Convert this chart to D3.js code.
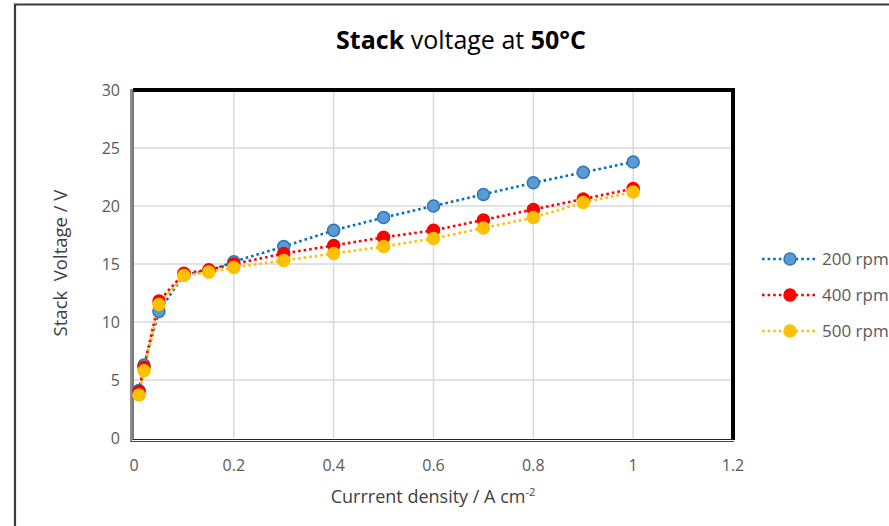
<!DOCTYPE html>
<html>
<head>
<meta charset="utf-8">
<script src="https://cdn.jsdelivr.net/npm/d3@7"></script>
<style>
  body { margin: 0; background: #fff; }
  svg { display: block; }
  text { font-family: "Open Sans", "Liberation Sans", sans-serif; }
</style>
</head>
<body>
<script>
// data
var currentDensity = [0.01, 0.02, 0.05, 0.1, 0.15, 0.2, 0.3, 0.4, 0.5, 0.6, 0.7, 0.8, 0.9, 1.0];
var rpm200 = [4.1, 6.3, 10.9, 14.1, 14.4, 15.2, 16.5, 17.9, 19.0, 20.0, 21.0, 22.0, 22.9, 23.8];
var rpm400 = [4.0, 6.1, 11.8, 14.2, 14.5, 15.0, 15.9, 16.6, 17.3, 17.9, 18.8, 19.7, 20.6, 21.5];
var rpm500 = [3.7, 5.8, 11.5, 14.0, 14.3, 14.7, 15.3, 15.9, 16.5, 17.2, 18.1, 19.0, 20.3, 21.2];
var seriesNames = ['200 rpm', '400 rpm', '500 rpm'];
var xTicks = [0, 0.2, 0.4, 0.6, 0.8, 1, 1.2];
var yTicks = [0, 5, 10, 15, 20, 25, 30];

var series = [
  { name: seriesNames[0], values: rpm200, line: '#0070c0', fill: '#5b9bd5', stroke: '#2e75b6' },
  { name: seriesNames[1], values: rpm400, line: '#ff0000', fill: '#ff0000', stroke: '#ff0000' },
  { name: seriesNames[2], values: rpm500, line: '#ffc000', fill: '#ffc000', stroke: '#ffc000' }
];

var W = 889, H = 526;
var svg = d3.select('body').append('svg')
  .attr('width', W).attr('height', H);

// outer frame (cropped picture: only top and left visible)
svg.append('path')
  .attr('d', 'M15,' + H + 'V4.5H' + W)
  .attr('fill', 'none')
  .attr('stroke', '#3a3a3a')
  .attr('stroke-width', 2.2);

var pL = 134, pR = 733, pT = 90, pB = 438;

var x = d3.scaleLinear().domain([0, 1.2]).range([pL, pR]);
var y = d3.scaleLinear().domain([0, 30]).range([pB, pT]);

// gridlines
svg.append('g').selectAll('line')
  .data(yTicks.slice(1)).enter().append('line')
  .attr('x1', pL).attr('x2', pR)
  .attr('y1', function(d){ return y(d); })
  .attr('y2', function(d){ return y(d); })
  .attr('stroke', '#d9d9d9').attr('stroke-width', 1.5);

svg.append('g').selectAll('line')
  .data(xTicks.slice(1)).enter().append('line')
  .attr('y1', pT).attr('y2', pB)
  .attr('x1', function(d){ return x(d); })
  .attr('x2', function(d){ return x(d); })
  .attr('stroke', '#d9d9d9').attr('stroke-width', 1.5);

// plot frame: thick top/right, double line left/bottom
svg.append('path')
  .attr('d', 'M' + (pL - 1) + ',' + pT + 'H' + pR + 'V' + (pB + 2))
  .attr('fill', 'none').attr('stroke', '#000').attr('stroke-width', 4);
svg.append('path')
  .attr('d', 'M' + (pL - 1) + ',' + (pT - 1) + 'V' + (pB + 1.5) + 'H' + pR)
  .attr('fill', 'none').attr('stroke', '#222').attr('stroke-width', 1.2);
svg.append('path')
  .attr('d', 'M' + (pL - 3) + ',' + (pT - 1) + 'V' + (pB + 3.5) + 'H' + (pR + 1))
  .attr('fill', 'none').attr('stroke', '#444').attr('stroke-width', 1.2);

// tick labels
svg.append('g').selectAll('text')
  .data(yTicks).enter().append('text')
  .attr('x', 120)
  .attr('y', function(d){ return y(d) + 6; })
  .attr('text-anchor', 'end')
  .attr('font-size', 16)
  .attr('fill', '#595959')
  .text(function(d){ return d; });

svg.append('g').selectAll('text')
  .data(xTicks).enter().append('text')
  .attr('x', function(d){ return x(d); })
  .attr('y', 471)
  .attr('text-anchor', 'middle')
  .attr('font-size', 16)
  .attr('fill', '#595959')
  .text(function(d){ return d; });

// axis titles
var xt = svg.append('text')
  .attr('x', 433).attr('y', 503)
  .attr('text-anchor', 'middle')
  .attr('font-size', 18)
  .attr('fill', '#404040');
xt.append('tspan').text('Currrent density / A cm');
xt.append('tspan').attr('dy', -7).attr('font-size', 11).text('-2');

svg.append('text')
  .attr('transform', 'translate(67,263) rotate(-90)')
  .attr('text-anchor', 'middle')
  .attr('font-size', 18.5)
  .attr('fill', '#404040')
  .attr('xml:space', 'preserve')
  .text('Stack  Voltage / V');

// title
var tt = svg.append('text')
  .attr('x', 461).attr('y', 49)
  .attr('text-anchor', 'middle')
  .attr('font-size', 25)
  .attr('fill', '#000');
tt.append('tspan').attr('font-weight', 'bold').text('Stack');
tt.append('tspan').text(' voltage at ');
tt.append('tspan').attr('font-weight', 'bold').text('50°C');

// lines
var line = d3.line()
  .x(function(d, i){ return x(currentDensity[i]); })
  .y(function(d){ return y(d); });

series.forEach(function(s){
  svg.append('path')
    .datum(s.values)
    .attr('d', line)
    .attr('fill', 'none')
    .attr('stroke', s.line)
    .attr('stroke-width', 2.6)
    .attr('stroke-dasharray', '2.6,3');
});

series.forEach(function(s){
  svg.append('g').selectAll('circle')
    .data(s.values).enter().append('circle')
    .attr('cx', function(d, i){ return x(currentDensity[i]); })
    .attr('cy', function(d){ return y(d); })
    .attr('r', 6)
    .attr('fill', s.fill)
    .attr('stroke', s.stroke)
    .attr('stroke-width', 1.5);
});

// legend
var legend = svg.append('g').selectAll('g')
  .data(series).enter().append('g')
  .attr('transform', function(d, i){ return 'translate(0,' + (259 + i * 36) + ')'; });

legend.append('line')
  .attr('x1', 762).attr('x2', 815)
  .attr('stroke', function(d){ return d.line; })
  .attr('stroke-width', 2.6)
  .attr('stroke-dasharray', '2.6,3');
legend.append('circle')
  .attr('cx', 790).attr('r', 6)
  .attr('fill', function(d){ return d.fill; })
  .attr('stroke', function(d){ return d.stroke; })
  .attr('stroke-width', 1.5);
legend.append('text')
  .attr('x', 822).attr('y', 6)
  .attr('font-size', 17)
  .attr('fill', '#595959')
  .text(function(d){ return d.name; });
</script>
</body>
</html>
